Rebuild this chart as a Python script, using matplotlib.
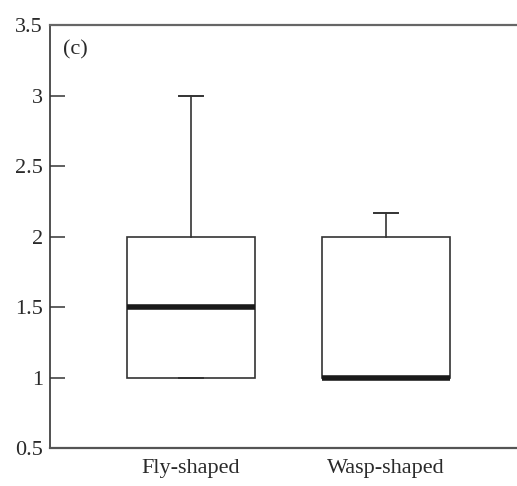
import matplotlib.pyplot as plt

# box statistics per wing-shape group
groups = ["Fly-shaped", "Wasp-shaped"]
q1 = [1.0, 1.0]
medians = [1.5, 1.0]
q3 = [2.0, 2.0]
whis_lo = [1.0, 1.0]
whis_hi = [3.0, 2.17]

plt.rcParams['font.family'] = ['Liberation Serif', 'DejaVu Serif']

fig = plt.figure(figsize=(5.17, 4.86), dpi=100)
ax = fig.add_axes([50 / 517, 38 / 486, 467 / 517, 423 / 486])

stats = []
for i, name in enumerate(groups):
    stats.append(dict(label=name, q1=q1[i], med=medians[i], q3=q3[i],
                      whislo=whis_lo[i], whishi=whis_hi[i], fliers=[]))

ax.bxp(stats, positions=[1, 2], widths=0.656, capwidths=0.128,
       showfliers=False, patch_artist=True,
       boxprops=dict(facecolor='white', edgecolor='#333333', linewidth=1.2),
       medianprops=dict(color='#1a1a1a', linewidth=4.0, solid_capstyle='butt'),
       whiskerprops=dict(color='#333333', linewidth=1.2),
       capprops=dict(color='#333333', linewidth=1.4))

ax.set_xlim(1 - 141 / 195, 2 + 131 / 195)
ax.set_ylim(0.5, 3.5)
ax.set_yticks([0.5, 1, 1.5, 2, 2.5, 3, 3.5])
ax.set_yticklabels(['0.5', '1', '1.5', '2', '2.5', '3', '3.5'])

ax.tick_params(axis='y', direction='in', length=11, width=1.2,
               color='#444444', pad=5, labelsize=16, labelcolor='#2a2a2a')
ax.tick_params(axis='x', length=0, pad=8, labelsize=16, labelcolor='#2a2a2a')

ax.spines['right'].set_visible(False)
ax.spines['left'].set_color('#333333')
ax.spines['left'].set_linewidth(1.2)
ax.spines['top'].set_color('#666666')
ax.spines['top'].set_linewidth(1.6)
ax.spines['bottom'].set_color('#555555')
ax.spines['bottom'].set_linewidth(1.6)

ax.text(0.028, 0.963, '(c)', transform=ax.transAxes, ha='left', va='top',
        fontsize=16, color='#2a2a2a')

fig.savefig('out.png', dpi=100)
